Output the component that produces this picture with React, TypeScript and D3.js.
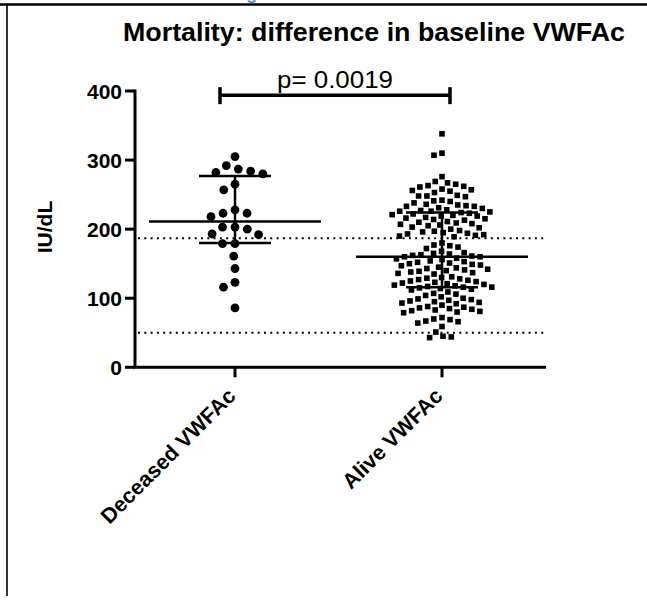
import React from "react";
import * as d3 from "d3";

const TITLE = "Mortality: difference in baseline VWFAc";
const categories = ["Deceased VWFAc", "Alive VWFAc"];
const yTicks = [0, 100, 200, 300, 400];
const yLabel = "IU/dL";
const pLabel = "p= 0.0019";

const deceased = [
  305, 287, 282, 280, 284, 292, 265, 257, 228, 223, 218, 223, 203, 200, 203,
  193, 192, 179, 179, 161, 143, 123, 116, 86,
];

const alive = [
  338, 310, 307, 276,
  269, 267, 265, 263, 262, 261,
  258, 257, 256, 255, 253,
  249, 248, 247, 248, 242, 241, 240, 238, 236, 235,
  234, 233, 233, 231, 230, 228, 227, 226, 226, 225, 224, 223,
  222, 221, 220, 219, 219, 217, 216, 215, 214, 213,
  211, 210, 209, 208, 207, 206, 205, 203, 202, 200,
  198, 197, 196, 195, 194, 193, 192, 191, 190, 189,
  180, 177, 176, 174, 172,
  168, 166, 165, 164, 163, 162, 161, 160, 160, 158, 157, 156,
  154, 153, 152, 151, 150, 149, 148, 147,
  145, 144, 143, 142, 141, 140, 139, 138, 137, 136, 135,
  131, 130, 129, 128, 127, 126, 125, 124, 123, 122, 121, 120, 119,
  118, 117, 116, 116, 115, 114, 113, 112,
  109, 107, 106, 104, 102,
  100, 99, 98, 97, 96, 95, 94, 93, 92,
  90, 88, 87, 86, 85, 84, 83, 82, 81, 80, 79,
  72, 70, 69, 67, 66, 64,
  59, 51, 45, 44, 43,
];

// median, Q1, Q3
const medians = [211, 160];
const q1s = [180, 116];
const q3s = [277, 224];
const refLines = [187, 50];
const bracketValue = 394;

const W = 647;
const H = 602;

function beeswarm(values: number[], y: (v: number) => number, cx: number, d: number) {
  const pts = values.map((v) => ({ v, y: y(v), x: 0 }));
  const sorted = [...pts].sort((a, b) => a.y - b.y);
  const placed: { v: number; y: number; x: number }[] = [];
  for (const p of sorted) {
    const near = placed.filter((q) => Math.abs(q.y - p.y) < d);
    const cands = [0];
    for (const q of near) {
      const dx = Math.sqrt(d * d - (q.y - p.y) ** 2);
      cands.push(q.x - dx, q.x + dx);
    }
    cands.sort((a, b) => Math.abs(a) - Math.abs(b));
    for (const c of cands) {
      if (near.every((q) => (q.x - c) ** 2 + (q.y - p.y) ** 2 >= d * d - 1e-6)) {
        p.x = c;
        break;
      }
    }
    placed.push(p);
  }
  return pts.map((p) => ({ ...p, x: cx + p.x }));
}

export default function App() {
  const y = d3.scaleLinear().domain([0, 400]).range([367.3, 91]);
  const x = d3.scalePoint<string>().domain(categories).range([235, 442]);
  const axisX = 135;
  const axisRight = 546;
  const font = "'Liberation Sans', Arial, Helvetica, sans-serif";

  const decPts = beeswarm(deceased, y, x(categories[0])!, 12.5);
  const alvPts = beeswarm(alive, y, x(categories[1])!, 8.3);
  const sq = 5.6;

  return (
    <svg
      width={W}
      height={H}
      style={{ position: "absolute", left: 0, top: 0, background: "#fff" }}
      fontFamily={font}
    >
      <rect width={W} height={H} fill="#fff" />
      {/* page frame */}
      <text x={246} y={-1} fontSize={20} fill="#4a7ebb" fontFamily={font}>g</text>
      <line x1={0} x2={W} y1={4.5} y2={4.5} stroke="#000" strokeWidth={2.5} />
      <line x1={7} x2={7} y1={4} y2={596} stroke="#000" strokeWidth={1.6} />

      {/* title */}
      <text x={123} y={41} fontSize={26} fontWeight="bold" textLength={502} lengthAdjust="spacingAndGlyphs">
        {TITLE}
      </text>

      {/* reference dotted lines */}
      {refLines.map((v, i) => (
        <line key={i} x1={axisX + 3} x2={axisRight} y1={y(v)} y2={y(v)} stroke="#000" strokeWidth={2} strokeDasharray="2 4.3" />
      ))}

      {/* axes */}
      <line x1={axisX} x2={axisX} y1={y(400) - 1.5} y2={y(0)} stroke="#000" strokeWidth={3} />
      <line x1={axisX - 1.5} x2={axisRight} y1={y(0)} y2={y(0)} stroke="#000" strokeWidth={3} />
      {yTicks.map((t) => (
        <g key={t}>
          <line x1={axisX - 10} x2={axisX} y1={y(t)} y2={y(t)} stroke="#000" strokeWidth={3} />
          <text x={axisX - 13} y={y(t)} dy="0.36em" textAnchor="end" fontSize={21} fontWeight="bold">
            {t}
          </text>
        </g>
      ))}
      <text
        transform={`translate(52,227) rotate(-90)`}
        textAnchor="middle"
        fontSize={21}
        fontWeight="bold"
      >
        {yLabel}
      </text>
      {categories.map((c) => (
        <g key={c}>
          <line x1={x(c)} x2={x(c)} y1={y(0)} y2={y(0) + 10} stroke="#000" strokeWidth={3} />
          <text
            transform={`translate(${x(c)! + 2},${y(0) + 30}) rotate(-45)`}
            textAnchor="end"
            fontSize={21.5}
            fontWeight="bold"
          >
            {c}
          </text>
        </g>
      ))}

      {/* points */}
      {decPts.map((p, i) => (
        <circle key={i} cx={p.x} cy={p.y} r={4.4} fill="#000" />
      ))}
      {alvPts.map((p, i) => (
        <rect key={i} x={p.x - sq / 2} y={p.y - sq / 2} width={sq} height={sq} fill="#000" />
      ))}

      {/* median and IQR */}
      {categories.map((c, i) => {
        const cx = x(c)!;
        return (
          <g key={c} stroke="#000" strokeWidth={2.5}>
            <line x1={cx - 86} x2={cx + 86} y1={y(medians[i])} y2={y(medians[i])} />
            <line x1={cx} x2={cx} y1={y(q1s[i])} y2={y(q3s[i])} />
            <line x1={cx - 36} x2={cx + 36} y1={y(q1s[i])} y2={y(q1s[i])} />
            <line x1={cx - 36} x2={cx + 36} y1={y(q3s[i])} y2={y(q3s[i])} />
          </g>
        );
      })}

      {/* significance bracket */}
      <g stroke="#000" strokeWidth={3.5}>
        <line x1={x(categories[0])! - 15} x2={x(categories[1])! + 8} y1={y(bracketValue)} y2={y(bracketValue)} />
        <line x1={x(categories[0])! - 15} x2={x(categories[0])! - 15} y1={y(bracketValue) - 8} y2={y(bracketValue) + 9} />
        <line x1={x(categories[1])! + 8} x2={x(categories[1])! + 8} y1={y(bracketValue) - 8} y2={y(bracketValue) + 9} />
      </g>
      <text x={335} y={88} textAnchor="middle" fontSize={24} textLength={116} lengthAdjust="spacingAndGlyphs">
        {pLabel}
      </text>
    </svg>
  );
}
